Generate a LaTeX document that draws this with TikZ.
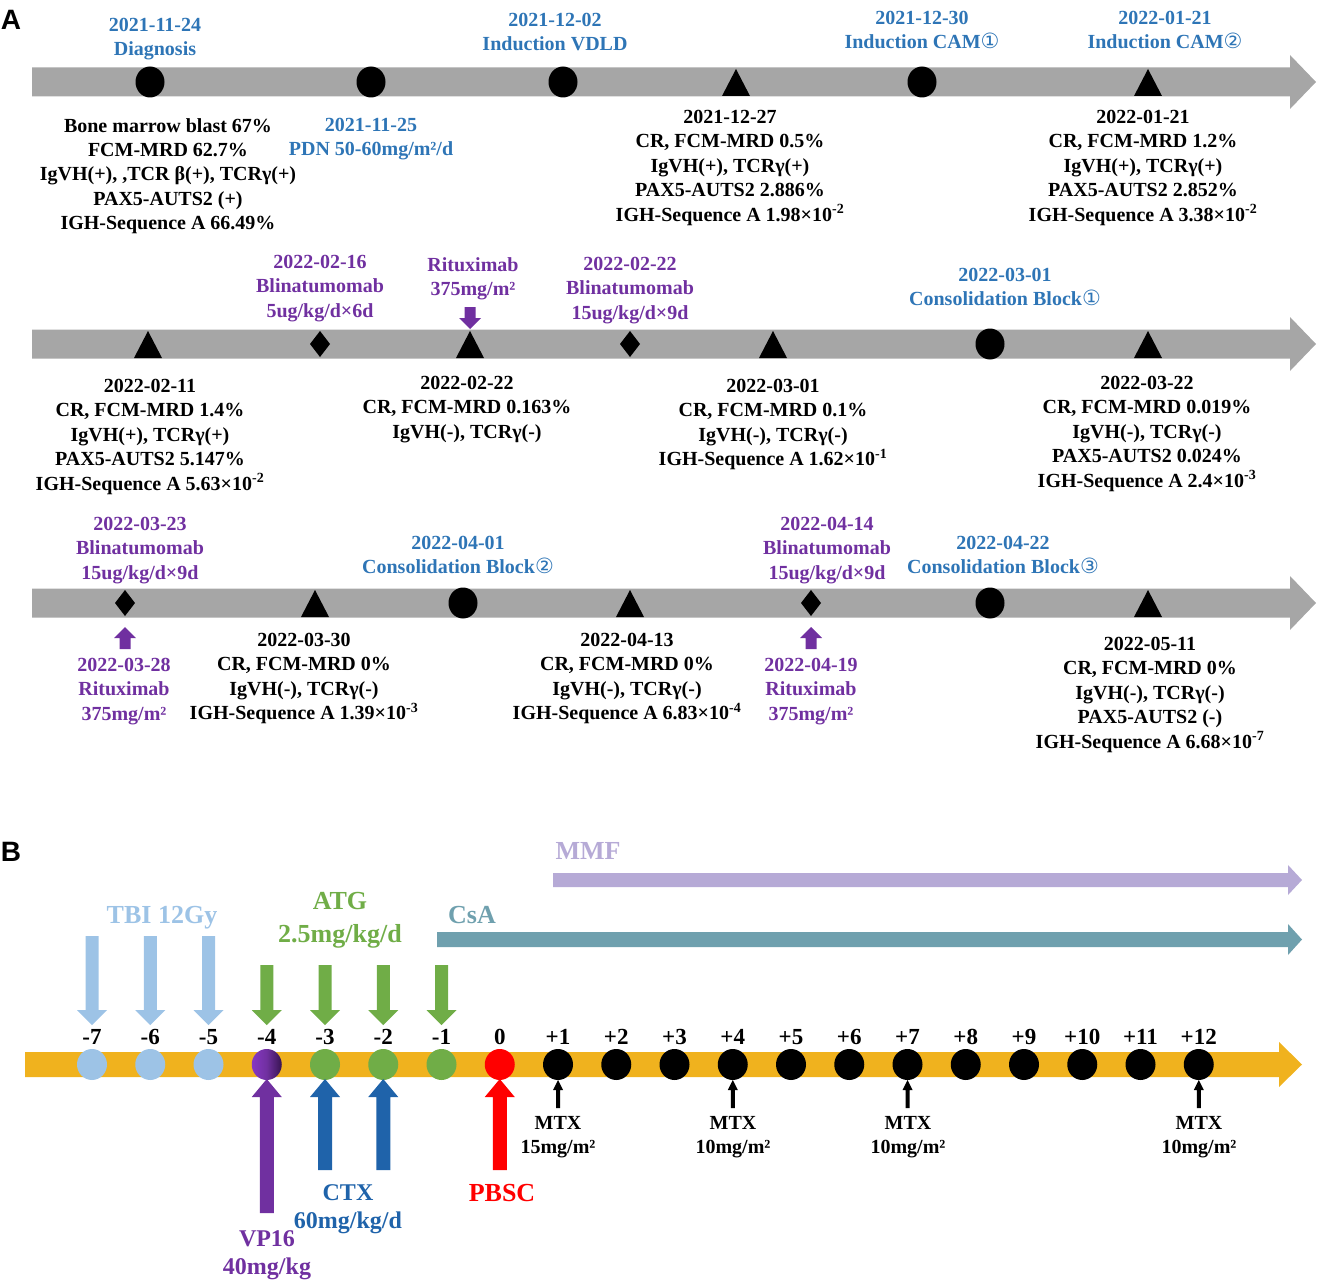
\documentclass[tikz,border=0pt]{standalone}
\usepackage{fontspec}
\setmainfont{Liberation Serif}
\newfontfamily\sansf{Liberation Sans}
\newfontfamily\circf{DejaVu Sans}
\usetikzlibrary{shapes.geometric}
\definecolor{barg}{RGB}{166,166,166}
\definecolor{tblue}{RGB}{46,117,182}
\definecolor{tpurp}{RGB}{112,48,160}
\definecolor{lblue}{RGB}{157,195,230}
\definecolor{tgreen}{RGB}{112,173,71}
\definecolor{dblue}{RGB}{31,99,170}
\definecolor{csacol}{RGB}{111,160,174}
\definecolor{mmfcol}{RGB}{182,170,214}
\definecolor{orng}{RGB}{240,178,30}
\definecolor{purpL}{RGB}{135,55,195}
\definecolor{purpD}{RGB}{55,20,80}
\newcommand\cA{{\circf\mdseries\fontsize{21}{21}\selectfont ①}}
\newcommand\cB{{\circf\mdseries\fontsize{21}{21}\selectfont ②}}
\newcommand\cC{{\circf\mdseries\fontsize{21}{21}\selectfont ③}}
\newcommand\sps[1]{\textsuperscript{#1}}
% markers for part A
\newcommand\mkT[3]{\coordinate (#1) at (#2,#3); \fill (#2-14,#3+14) -- (#2+14,#3+14) -- (#2,#3-13) -- cycle;}
\newcommand\mkD[3]{\coordinate (#1) at (#2,#3); \fill (#2,#3-13) -- (#2+10,#3) -- (#2,#3+13) -- (#2-10,#3) -- cycle;}
\newcommand\mkC[3]{\node[dotA] (#1) at (#2,#3) {};}
\newcommand\gbar[1]{\fill[barg] (32,#1-14.5) -- (1290,#1-14.5) -- (1290,#1-27) -- (1316,#1) -- (1290,#1+27) -- (1290,#1+14.5) -- (32,#1+14.5) -- cycle;}
% block arrow: color, x, y0, ybase, ytip, shaft half width, head half width
\newcommand\fatarr[7]{\fill[#1] (#2-#6,#3) -- (#2+#6,#3) -- (#2+#6,#4) -- (#2+#7,#4) -- (#2,#5) -- (#2-#7,#4) -- (#2-#6,#4) -- cycle;}
\tikzset{
  txA/.style={font=\bfseries\fontsize{20}{24.4}\selectfont, align=center, inner sep=0pt, anchor=north},
  txN/.style={font=\bfseries\fontsize{23}{24}\selectfont, align=center, inner sep=0pt, anchor=north},
  txB/.style={font=\bfseries\fontsize{26}{33}\selectfont, align=center, inner sep=0pt, anchor=north},
  txC/.style={font=\bfseries\fontsize{24}{28.5}\selectfont, align=center, inner sep=0pt, anchor=north},
  dotA/.style={ellipse, fill=black, minimum width=29, minimum height=31, inner sep=0pt},
  dotB/.style={ellipse, minimum width=30, minimum height=31, inner sep=0pt},
  panel/.style={font=\sansf\bfseries\fontsize{28}{28}\selectfont, inner sep=0pt}
}
\begin{document}
\begin{tikzpicture}[x=1pt,y=-1pt]
\useasboundingbox (0,0) rectangle (1318,1287);
\node[panel] (pA) at (11,20) {A};
\node[panel] (pB) at (11,852) {B};

% ---------------- Row 1
\gbar{82}
\mkC{m11}{150}{82} \mkC{m12}{371}{82} \mkC{m13}{563}{82}
\mkT{m14}{736}{82} \mkC{m15}{922}{82} \mkT{m16}{1148}{82}
\node[txA,text=tblue] (d1) at (155,18) {2021-11-24\\Diagnosis};
\node[txA,text=tblue] (d2) at (555,13) {2021-12-02\\Induction VDLD};
\node[txA,text=tblue] (d3) at (922,11) {2021-12-30\\Induction CAM\cA};
\node[txA,text=tblue] (d4) at (1165,11) {2022-01-21\\Induction CAM\cB};
\node[txA] (b1) at (168,118) {Bone marrow blast 67\%\\FCM-MRD 62.7\%\\IgVH(+), ,TCR β(+), TCRγ(+)\\PAX5-AUTS2 (+)\\IGH-Sequence A 66.49\%};
\node[txA,text=tblue] (b2) at (371,118) {2021-11-25\\PDN 50-60mg/m²/d};
\node[txA] (b3) at (730,110) {2021-12-27\\CR, FCM-MRD 0.5\%\\IgVH(+), TCRγ(+)\\PAX5-AUTS2 2.886\%\\IGH-Sequence A 1.98×10\sps{-2}};
\node[txA] (b4) at (1143,110) {2022-01-21\\CR, FCM-MRD 1.2\%\\IgVH(+), TCRγ(+)\\PAX5-AUTS2 2.852\%\\IGH-Sequence A 3.38×10\sps{-2}};

% ---------------- Row 2
\gbar{344}
\mkT{m21}{148}{344} \mkD{m22}{320}{344} \mkT{m23}{470}{344} \mkD{m24}{630}{344}
\mkT{m25}{773}{344} \mkC{m26}{990}{344} \mkT{m27}{1148}{344}
\fatarr{tpurp}{470}{307}{318}{329}{5.5}{11}
\node[txA,text=tpurp] (e1) at (320,255) {2022-02-16\\Blinatumomab\\5ug/kg/d×6d};
\node[txA,text=tpurp] (e2) at (473,257) {Rituximab\\375mg/m²};
\node[txA,text=tpurp] (e3) at (630,257) {2022-02-22\\Blinatumomab\\15ug/kg/d×9d};
\node[txA,text=tblue] (e4) at (1005,268) {2022-03-01\\Consolidation Block\cA};
\node[txA] (f1) at (150,379) {2022-02-11\\CR, FCM-MRD 1.4\%\\IgVH(+), TCRγ(+)\\PAX5-AUTS2 5.147\%\\IGH-Sequence A 5.63×10\sps{-2}};
\node[txA] (f2) at (467,376) {2022-02-22\\CR, FCM-MRD 0.163\%\\IgVH(-), TCRγ(-)};
\node[txA] (f3) at (773,379) {2022-03-01\\CR, FCM-MRD 0.1\%\\IgVH(-), TCRγ(-)\\IGH-Sequence A 1.62×10\sps{-1}};
\node[txA] (f4) at (1147,376) {2022-03-22\\CR, FCM-MRD 0.019\%\\IgVH(-), TCRγ(-)\\PAX5-AUTS2 0.024\%\\IGH-Sequence A 2.4×10\sps{-3}};

% ---------------- Row 3
\gbar{603}
\mkD{m31}{125}{603} \mkT{m32}{315}{603} \mkC{m33}{463}{603} \mkT{m34}{630}{603}
\mkD{m35}{811}{603} \mkC{m36}{990}{603} \mkT{m37}{1148}{603}
\fatarr{tpurp}{125}{649}{638}{627}{5.5}{11}
\fatarr{tpurp}{811}{649}{638}{627}{5.5}{11}
\node[txA,text=tpurp] (g1) at (140,517) {2022-03-23\\Blinatumomab\\15ug/kg/d×9d};
\node[txA,text=tblue] (g2) at (458,536) {2022-04-01\\Consolidation Block\cB};
\node[txA,text=tpurp] (g3) at (827,517) {2022-04-14\\Blinatumomab\\15ug/kg/d×9d};
\node[txA,text=tblue] (g4) at (1003,536) {2022-04-22\\Consolidation Block\cC};
\node[txA,text=tpurp] (h1) at (124,658) {2022-03-28\\Rituximab\\375mg/m²};
\node[txA] (h2) at (304,633) {2022-03-30\\CR, FCM-MRD 0\%\\IgVH(-), TCRγ(-)\\IGH-Sequence A 1.39×10\sps{-3}};
\node[txA] (h3) at (627,633) {2022-04-13\\CR, FCM-MRD 0\%\\IgVH(-), TCRγ(-)\\IGH-Sequence A 6.83×10\sps{-4}};
\node[txA,text=tpurp] (h4) at (811,658) {2022-04-19\\Rituximab\\375mg/m²};
\node[txA] (h5) at (1150,637) {2022-05-11\\CR, FCM-MRD 0\%\\IgVH(-), TCRγ(-)\\PAX5-AUTS2 (-)\\IGH-Sequence A 6.68×10\sps{-7}};

% ================= Part B
% MMF and CsA bars
\fill[mmfcol] (553,873) -- (1288,873) -- (1288,865) -- (1302,880) -- (1288,895) -- (1288,887) -- (553,887) -- cycle;
\fill[csacol] (437,932) -- (1288,932) -- (1288,924) -- (1302,939.5) -- (1288,955) -- (1288,947) -- (437,947) -- cycle;
\node[txB,text=mmfcol] (mmf) at (588,842) {MMF};
\node[txB,text=csacol] (csa) at (472,906) {CsA};
\node[txB,text=lblue] (tbi) at (162,906) {TBI 12Gy};
\node[txB,text=tgreen] (atg) at (340,892) {ATG\\2.5mg/kg/d};
% orange day bar
\fill[orng] (25,1052) -- (1279,1052) -- (1279,1042) -- (1302,1064.5) -- (1279,1087) -- (1279,1077) -- (25,1077) -- cycle;
% days
\foreach \lab [count=\k from 0] in {-7,-6,-5,-4,-3,-2,-1,0,+1,+2,+3,+4,+5,+6,+7,+8,+9,+10,+11,+12}{
  \pgfmathsetmacro\xx{92+\k*58.25}
  \node[txN] (n\k) at (\xx,1029) {\lab};
  \ifnum\k<3
    \node[dotB,fill=lblue] (c\k) at (\xx,1064.5) {};
  \else\ifnum\k=3
    \node[dotB,left color=purpL,right color=purpD,middle color=tpurp] (c\k) at (\xx,1064.5) {};
  \else\ifnum\k<7
    \node[dotB,fill=tgreen] (c\k) at (\xx,1064.5) {};
  \else\ifnum\k=7
    \node[dotB,fill=red] (c\k) at (\xx,1064.5) {};
  \else
    \node[dotB,fill=black] (c\k) at (\xx,1064.5) {};
  \fi\fi\fi\fi
}
% TBI arrows
\foreach \k in {0,1,2}{
  \pgfmathsetmacro\xx{92+\k*58.25}
  \fatarr{lblue}{\xx}{936}{1010}{1025}{6.5}{15}
}
% ATG arrows
\foreach \k in {3,4,5,6}{
  \pgfmathsetmacro\xx{92+\k*58.25}
  \fatarr{tgreen}{\xx}{965}{1010}{1025}{6.5}{15}
}
% bottom arrows
\fatarr{tpurp}{266.75}{1213}{1097}{1079}{7}{15}
\fatarr{dblue}{325}{1170}{1097}{1079}{7}{15}
\fatarr{dblue}{383.25}{1170}{1097}{1079}{7}{15}
\fatarr{red}{499.75}{1170}{1097}{1079}{7}{15}
\foreach \k in {8,11,14,19}{
  \pgfmathsetmacro\xx{92+\k*58.25}
  \fatarr{black}{\xx}{1108}{1090}{1080}{2}{5}
}
\node[txC,text=dblue] (ctx) at (348,1184) {CTX\\60mg/kg/d};
\node[txC,text=tpurp] (vp) at (267,1230) {VP16\\40mg/kg};
\node[txB,text=red] (pbsc) at (502,1184) {PBSC};
\node[txA] (mtx1) at (558,1116) {MTX\\15mg/m²};
\node[txA] (mtx2) at (733,1116) {MTX\\10mg/m²};
\node[txA] (mtx3) at (908,1116) {MTX\\10mg/m²};
\node[txA] (mtx4) at (1199,1116) {MTX\\10mg/m²};
\end{tikzpicture}
\end{document}
